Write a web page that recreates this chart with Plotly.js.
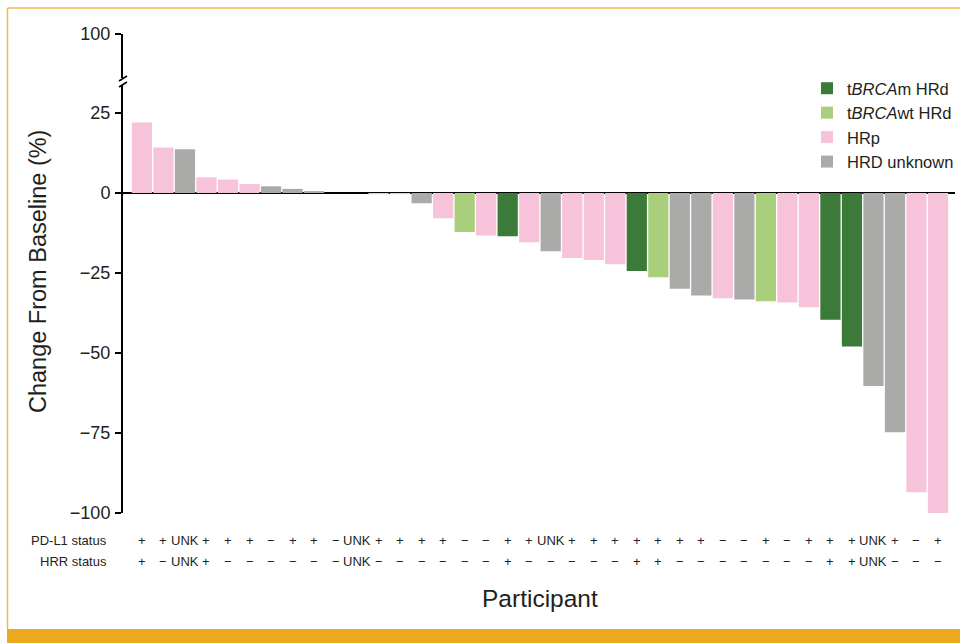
<!DOCTYPE html>
<html>
<head>
<meta charset="utf-8">
<script src="https://cdn.plot.ly/plotly-3.0.1.min.js"></script>
<style>
  html, body { margin: 0; padding: 0; background: #ffffff; }
  #chart { width: 960px; height: 643px; }
</style>
</head>
<body>
<div id="chart"></div>
<script>
// ---- Data ----
const participants = Array.from({length: 38}, (_, i) => 'P' + (i + 1));
const changeFromBaseline = [
  22, 14.2, 13.7, 4.9, 4.2, 2.8, 2.1, 1.3, 0.6, 0, 0, -0.4, -0.4, -3.2,
  -7.9, -12.2, -13.3, -13.5, -15.4, -18.2, -20.3, -20.9, -22.3, -24.4,
  -26.3, -29.9, -32.0, -32.9, -33.3, -33.8, -34.2, -35.7, -39.6, -48.0,
  -60.3, -74.8, -93.5, -100
];
const hrdGroup = [
  'HRp', 'HRp', 'HRD unknown', 'HRp', 'HRp', 'HRp', 'HRD unknown', 'HRD unknown', 'HRD unknown', 'HRp', 'HRD unknown', 'HRp', 'HRp', 'HRD unknown',
  'HRp', 'tBRCAwt HRd', 'HRp', 'tBRCAm HRd', 'HRp', 'HRD unknown', 'HRp', 'HRp', 'HRp', 'tBRCAm HRd',
  'tBRCAwt HRd', 'HRD unknown', 'HRD unknown', 'HRp', 'HRD unknown', 'tBRCAwt HRd', 'HRp', 'HRp', 'tBRCAm HRd', 'tBRCAm HRd',
  'HRD unknown', 'HRD unknown', 'HRp', 'HRp'
];
const pdl1Status = [
  '+', '+', 'UNK', '+', '+', '+', '−', '+', '+', '−', 'UNK', '+', '+', '+',
  '+', '−', '−', '+', '+', 'UNK', '+', '+', '+', '+',
  '+', '+', '+', '−', '−', '+', '−', '+', '+', '+',
  'UNK', '+', '−', '+'
];
const hrrStatus = [
  '+', '−', 'UNK', '+', '−', '−', '−', '−', '−', '−', 'UNK', '−', '−', '−',
  '−', '−', '−', '+', '−', '−', '−', '−', '−', '+',
  '+', '−', '−', '−', '−', '−', '−', '−', '+', '+',
  'UNK', '−', '−', '−'
];
const groups = ['tBRCAm HRd', 'tBRCAwt HRd', 'HRp', 'HRD unknown'];
const groupLabels = ['t<i>BRCA</i>m HRd', 't<i>BRCA</i>wt HRd', 'HRp', 'HRD unknown'];
const groupColors = ['#3b7a38', '#a9cf7c', '#f7c3da', '#aaaaa8'];
const yTickVals = [-100, -75, -50, -25, 0, 25];
const yTickText = ['−100', '−75', '−50', '−25', '0', '25'];
const yTopTickVals = [100];
const yTopTickText = ['100'];

// ---- Layout geometry ----
const W = 960, H = 643;
const M = {l: 123, r: 5, t: 34, b: 130, autoexpand: false};
const PW = W - M.l - M.r, PH = H - M.t - M.b;
const px = x => (x - M.l) / PW;
const py = y => (H - M.b - y) / PH;

const textColor = '#231f20';
const fontFamily = '"Liberation Sans", Arial, Helvetica, sans-serif';

const traces = groups.map((g, gi) => {
  const xs = [], ys = [];
  participants.forEach((p, i) => {
    if (hrdGroup[i] === g) { xs.push(p); ys.push(changeFromBaseline[i]); }
  });
  return {
    type: 'bar', name: groupLabels[gi], x: xs, y: ys,
    marker: {color: groupColors[gi], line: {width: 0}},
    hoverinfo: 'x+y'
  };
});

const statusFont = {size: 13, color: textColor, family: fontFamily};
const annotations = [];
participants.forEach((p, i) => {
  annotations.push({x: p, xref: 'x', y: py(540), yref: 'paper', text: pdl1Status[i],
    showarrow: false, xanchor: 'center', yanchor: 'middle', font: statusFont});
  annotations.push({x: p, xref: 'x', y: py(561), yref: 'paper', text: hrrStatus[i],
    showarrow: false, xanchor: 'center', yanchor: 'middle', font: statusFont});
});
annotations.push({x: px(109), xref: 'paper', y: py(540), yref: 'paper', text: 'PD-L1 status',
  showarrow: false, xanchor: 'right', yanchor: 'middle', font: statusFont});
annotations.push({x: px(109), xref: 'paper', y: py(561), yref: 'paper', text: 'HRR status',
  showarrow: false, xanchor: 'right', yanchor: 'middle', font: statusFont});
annotations.push({x: px(38), xref: 'paper', y: py(272), yref: 'paper', text: 'Change From Baseline (%)',
  textangle: -90, showarrow: false, xanchor: 'center', yanchor: 'middle', font: {size: 23.5, color: textColor, family: fontFamily}});
annotations.push({x: px(540), xref: 'paper', y: py(598), yref: 'paper', text: 'Participant',
  showarrow: false, xanchor: 'center', yanchor: 'middle', font: {size: 24.5, color: textColor, family: fontFamily}});

const shapes = [
  // axis break marks
  {type: 'line', xref: 'paper', yref: 'paper', x0: px(119), y0: py(81), x1: px(127), y1: py(76), line: {color: '#000', width: 1.5}},
  {type: 'line', xref: 'paper', yref: 'paper', x0: px(119), y0: py(87), x1: px(127), y1: py(82), line: {color: '#000', width: 1.5}},
  // frame
  {type: 'line', xref: 'paper', yref: 'paper', x0: px(7.5), y0: py(8), x1: px(960), y1: py(8), line: {color: '#f0b74a', width: 1.5}},
  {type: 'line', xref: 'paper', yref: 'paper', x0: px(7.5), y0: py(8), x1: px(7.5), y1: py(629), line: {color: '#f0b74a', width: 1.5}},
  {type: 'rect', xref: 'paper', yref: 'paper', x0: px(7), y0: py(629), x1: px(960), y1: py(643), fillcolor: '#eca81e', line: {width: 0}}
];

const axisCommon = {
  showline: true, linecolor: '#000', linewidth: 2, ticks: 'outside', ticklen: 6, tickwidth: 2, tickcolor: '#000',
  showgrid: false, tickfont: {size: 18, color: textColor, family: fontFamily}, ticklabelstandoff: 1, fixedrange: true,
  tickmode: 'array'
};

const layout = {
  width: W, height: H,
  margin: M,
  paper_bgcolor: '#ffffff', plot_bgcolor: '#ffffff',
  font: {family: fontFamily, color: textColor},
  barmode: 'overlay', bargap: 0.06,
  xaxis: {type: 'category', categoryorder: 'array', categoryarray: participants,
    range: [-0.88, 37.79], showticklabels: false, ticks: '', showline: false, showgrid: false, zeroline: false, fixedrange: true},
  yaxis: Object.assign({}, axisCommon, {domain: [0, py(85)], range: [-100, 33.75], tickvals: yTickVals, ticktext: yTickText,
    zeroline: true, zerolinecolor: '#000', zerolinewidth: 2}),
  yaxis2: Object.assign({}, axisCommon, {domain: [py(78), 1], range: [86.25, 100], tickvals: yTopTickVals, ticktext: yTopTickText,
    zeroline: false, anchor: 'x'}),
  showlegend: true,
  legend: {x: px(807), y: py(71), xanchor: 'left', yanchor: 'top', bgcolor: 'rgba(0,0,0,0)',
    font: {size: 16.5, color: textColor, family: fontFamily}, traceorder: 'normal'},
  annotations: annotations,
  shapes: shapes
};

// invisible trace so the upper (broken) axis segment is drawn
traces.push({type: 'scatter', x: [participants[0]], y: [100], yaxis: 'y2', mode: 'markers',
  marker: {opacity: 0}, showlegend: false, hoverinfo: 'skip'});

Plotly.newPlot('chart', traces, layout, {displayModeBar: false, staticPlot: true});
</script>
</body>
</html>
